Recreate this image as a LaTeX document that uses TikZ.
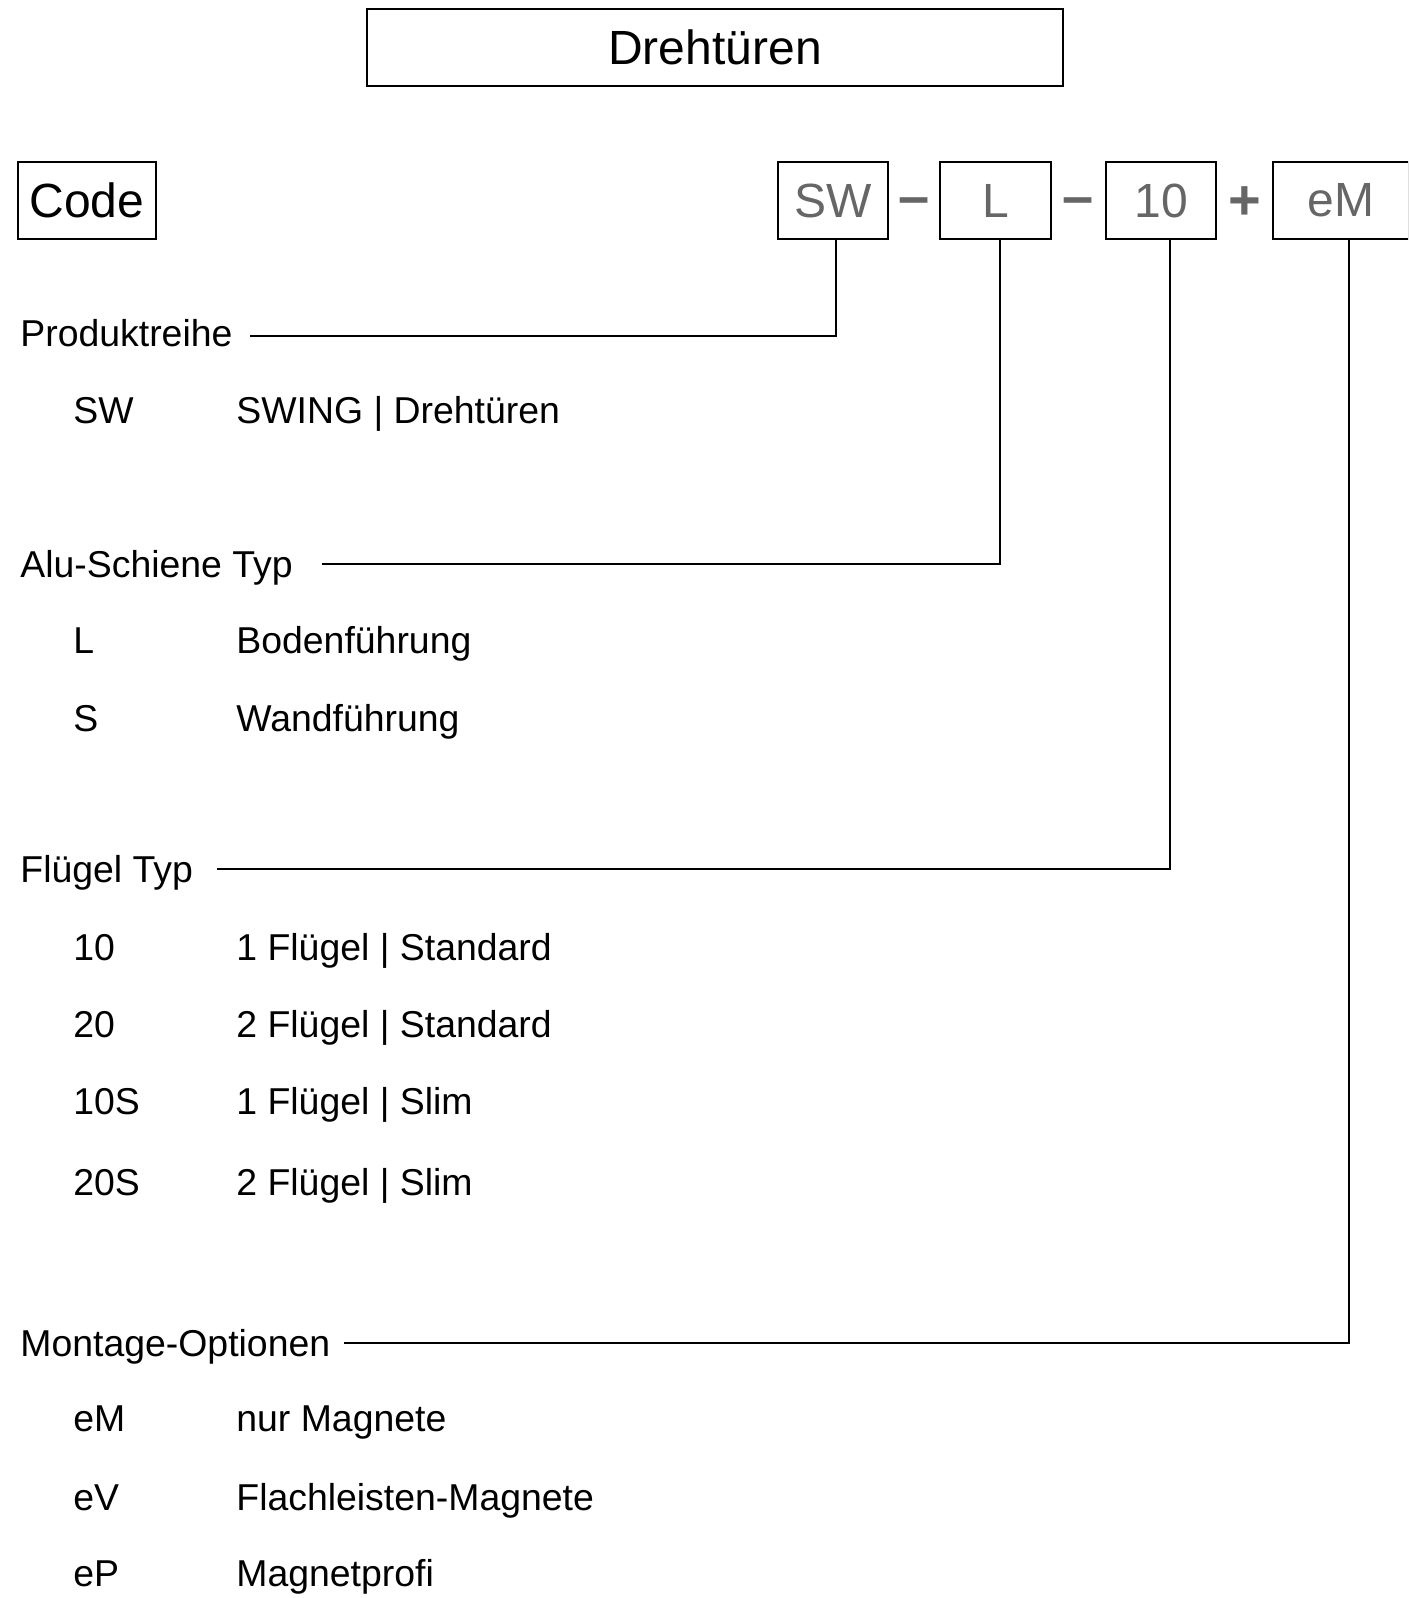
\documentclass[tikz,border=0pt]{standalone}
\usepackage{fontspec}
\setmainfont{Liberation Sans}
\definecolor{codegray}{HTML}{666666}
\begin{document}
\begin{tikzpicture}[x=0.5pt,y=-0.5pt,
  box/.style={draw=black,line width=1.1pt,inner sep=0pt,minimum height=38.5pt,font=\fontsize{24}{28}\selectfont},
  codebox/.style={box,text=codegray},
  lab/.style={anchor=base west,inner sep=0pt,font=\fontsize{18.7}{22}\selectfont},
  conn/.style={line width=1pt},
  sign/.style={anchor=base,text=codegray,inner sep=0pt,font=\fontsize{28}{32}\selectfont\bfseries}]
\useasboundingbox (0,0) rectangle (1408,1598);
\clip (0,0) rectangle (1408,1598);
% header boxes
\node[box,minimum width=348pt] (title) at (715,47.5) {Drehtüren};
\node[box,minimum width=69pt] (code) at (87,200.5) {Code};
\node[codebox,minimum width=55pt] (sw) at (833,200.5) {SW};
\node[codebox,minimum width=55.5pt] (l) at (995.5,200.5) {L};
\node[codebox,minimum width=55pt] (t10) at (1161,200.5) {10};
\node[codebox,minimum width=68pt] (em) at (1341,200.5) {eM};
% signs
\node[sign] (s1) at (914,215.5) {–};
\node[sign] (s2) at (1078,215.5) {–};
\node[sign] (s3) at (1244.5,220) {+};
% section labels
\node[lab] (prod) at (20,347) {Produktreihe};
\node[lab] (alu) at (20,577) {Alu-Schiene Typ};
\node[lab] (flue) at (20,882) {Flügel Typ};
\node[lab] (mont) at (20,1356) {Montage-Optionen};
% items
\node[lab] (i1a) at (73,424) {SW};
\node[lab] (i1b) at (236,424) {SWING | Drehtüren};
\node[lab] (i2a) at (73,653) {L};
\node[lab] (i2b) at (236,653) {Bodenführung};
\node[lab] (i3a) at (73,731) {S};
\node[lab] (i3b) at (236,731) {Wandführung};
\node[lab] (i4a) at (73,960) {10};
\node[lab] (i4b) at (236,960) {1 Flügel | Standard};
\node[lab] (i5a) at (73,1037) {20};
\node[lab] (i5b) at (236,1037) {2 Flügel | Standard};
\node[lab] (i6a) at (73,1114) {10S};
\node[lab] (i6b) at (236,1114) {1 Flügel | Slim};
\node[lab] (i7a) at (73,1195) {20S};
\node[lab] (i7b) at (236,1195) {2 Flügel | Slim};
\node[lab] (i8a) at (73,1431) {eM};
\node[lab] (i8b) at (236,1431) {nur Magnete};
\node[lab] (i9a) at (73,1510) {eV};
\node[lab] (i9b) at (236,1510) {Flachleisten-Magnete};
\node[lab] (i10a) at (73,1586) {eP};
\node[lab] (i10b) at (236,1586) {Magnetprofi};
% connector ends
\coordinate (c1) at (250,336);
\coordinate (c2) at (322,564);
\coordinate (c3) at (217,869);
\coordinate (c4) at (344,1343);
\draw[conn] ([xshift=1.25pt]sw.south) |- (c1);
\draw[conn] ([xshift=2pt]l.south) |- (c2);
\draw[conn] ([xshift=4.3pt]t10.south) |- (c3);
\draw[conn] ([xshift=3.75pt]em.south) |- (c4);
\end{tikzpicture}
\end{document}
